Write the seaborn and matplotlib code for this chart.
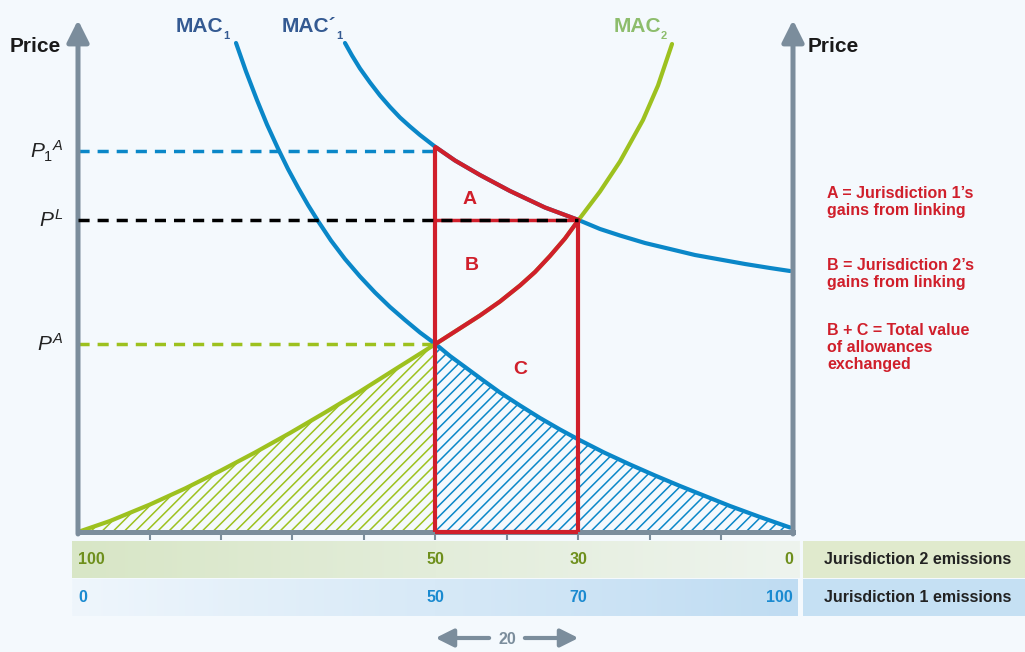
import numpy as np
import pandas as pd
import matplotlib.pyplot as plt
import matplotlib.transforms as mtransforms
from matplotlib.colors import LinearSegmentedColormap
import seaborn as sns

# values (x = jurisdiction 1 emissions, price in chart units)
mac1_x = [22.10, 23.50, 25.03, 26.43, 27.97, 29.37, 30.77, 32.17, 33.57, 35.38, 37.34, 39.44, 41.54,
          43.64, 45.73, 47.83, 50.0, 52.03, 54.13, 56.50, 59.02, 61.82, 64.62, 67.41, 70.0, 73.57,
          77.20, 80.70, 84.20, 87.69, 91.19, 95.38, 99.58]
mac1_p = [97.8, 92.1, 86.4, 81.5, 76.7, 72.6, 68.9, 65.4, 62.2, 58.3, 54.6, 51.1, 47.9,
          45.0, 42.4, 39.9, 37.6, 35.2, 33.0, 30.5, 27.9, 25.3, 22.8, 20.5, 18.5, 15.9,
          13.5, 11.3, 9.2, 7.2, 5.2, 3.0, 0.9]

mac1b_x = [37.34, 38.32, 39.44, 40.84, 42.24, 43.64, 45.03, 46.43, 47.83, 50.0, 52.73, 56.22, 60.42,
           65.31, 70.0, 73.01, 75.80, 79.30, 82.80, 86.29, 89.79, 93.29, 96.78, 99.58]
mac1b_p = [97.8, 95.3, 92.7, 89.9, 87.3, 85.0, 82.9, 81.1, 79.4, 77.0, 74.3, 71.4, 68.2,
           64.9, 62.4, 60.6, 59.3, 57.8, 56.6, 55.4, 54.5, 53.6, 52.8, 52.2]

mac2_x = [0.0, 4.48, 10.07, 14.97, 19.86, 24.76, 29.65, 34.55, 39.44, 44.76, 50.0, 52.73, 56.22,
          59.02, 61.82, 63.92, 66.01, 68.11, 70.0, 73.01, 75.80, 79.02, 81.12, 83.08]
mac2_p = [0.0, 2.2, 5.5, 8.7, 12.2, 15.9, 19.8, 23.9, 28.1, 32.9, 37.6, 40.1, 43.3,
          46.1, 49.3, 52.0, 55.2, 58.7, 62.4, 68.1, 74.1, 82.4, 89.3, 97.6]

p1a, pl, pa = 76.2, 62.4, 37.6
q_aut, q_link = 50.0, 70.0
x_ticks = [10, 20, 30, 40, 50, 60, 70, 80, 90]
j2_labels = {0: '100', 50: '50', 70: '30', 100: '0'}
j1_labels = {0: '0', 50: '50', 70: '70', 100: '100'}

BLUE = '#0a87c8'
GREEN = '#9dc11f'
RED = '#d01f2b'
GRAY = '#7b8d9c'
BG = '#f4f9fd'

sns.set_theme(style='white')
plt.rcParams['font.family'] = ['Liberation Sans', 'DejaVu Sans']
plt.rcParams['mathtext.fontset'] = 'custom'
plt.rcParams['mathtext.rm'] = 'Liberation Sans'
plt.rcParams['mathtext.it'] = 'Liberation Sans:italic'
plt.rcParams['mathtext.bf'] = 'Liberation Sans:bold'
plt.rcParams['hatch.linewidth'] = 1.1
plt.rcParams['lines.solid_capstyle'] = 'round'

fig = plt.figure(figsize=(10.25, 6.52), dpi=100, facecolor=BG)

# overlay in pixel coordinates for the bands and free text
ov = fig.add_axes([0, 0, 1, 1], zorder=0)
ov.set_xlim(0, 1025)
ov.set_ylim(652, 0)
ov.axis('off')

ax = fig.add_axes([78 / 1025, (652 - 532) / 652, (793 - 78) / 1025, (532 - 20) / 652], zorder=1)
ax.patch.set_alpha(0)
ax.set_xlim(0, 100)
ax.set_ylim(0, 102.4)

# gradient bands under the axis
grad = np.linspace(0, 1, 256).reshape(1, -1)
cm_g = LinearSegmentedColormap.from_list('g', ['#d8e6c6', '#eef4ee'])
cm_b = LinearSegmentedColormap.from_list('b', ['#eff6fc', '#bfdcf2'])
ov.imshow(grad, cmap=cm_g, extent=(72, 800, 578, 541), aspect='auto', zorder=0)
ov.imshow(grad, cmap=cm_b, extent=(72, 798, 616, 579), aspect='auto', zorder=0)
ov.add_patch(plt.Rectangle((803, 541), 222, 37, color='#e0eacd', lw=0))
ov.add_patch(plt.Rectangle((803, 579), 222, 37, color='#c5e0f3', lw=0))
ov.text(918, 560, 'Jurisdiction 2 emissions', ha='center', va='center', fontsize=11.5, fontweight='bold', color='#222222')
ov.text(918, 598, 'Jurisdiction 1 emissions', ha='center', va='center', fontsize=11.5, fontweight='bold', color='#222222')

# hatched areas
g_x = [x for x in mac2_x if x <= q_aut]
g_p = [p for x, p in zip(mac2_x, mac2_p) if x <= q_aut]
b_x = [x for x in mac1_x if x >= q_aut]
b_p = [p for x, p in zip(mac1_x, mac1_p) if x >= q_aut]
ax.fill_between(g_x, g_p, 0, facecolor='none', edgecolor=GREEN, hatch='///', linewidth=0, zorder=1)
ax.fill_between(b_x, b_p, 0, facecolor='none', edgecolor=BLUE, hatch='///', linewidth=0, zorder=1)

# curves
df = pd.concat([
    pd.DataFrame({'x': mac1_x, 'price': mac1_p, 'curve': 'MAC1'}),
    pd.DataFrame({'x': mac1b_x, 'price': mac1b_p, 'curve': "MAC1'"}),
    pd.DataFrame({'x': mac2_x, 'price': mac2_p, 'curve': 'MAC2'}),
])
sns.lineplot(data=df, x='x', y='price', hue='curve', units='curve', estimator=None, sort=False,
             palette={'MAC1': BLUE, "MAC1'": BLUE, 'MAC2': GREEN}, lw=3, legend=False, ax=ax, zorder=3)

# red outline of A, B, C
ra_x = [x for x in mac1b_x if q_aut <= x <= q_link]
ra_p = [p for x, p in zip(mac1b_x, mac1b_p) if q_aut <= x <= q_link]
rb_x = [x for x in mac2_x if q_aut <= x <= q_link]
rb_p = [p for x, p in zip(mac2_x, mac2_p) if q_aut <= x <= q_link]
ax.plot(ra_x, ra_p, color=RED, lw=3, zorder=5)
ax.plot(rb_x, rb_p, color=RED, lw=3, zorder=5)
ax.plot([q_aut, q_aut], [0, ra_p[0]], color=RED, lw=3, zorder=5, solid_capstyle='butt')
ax.plot([q_link, q_link], [0, pl], color=RED, lw=3, zorder=5, solid_capstyle='butt')
ax.plot([q_aut, q_link], [pl, pl], color=RED, lw=2.5, zorder=5)

# axes: gray spines with arrows
ax.spines[['left', 'right', 'top']].set_visible(False)
ax.spines['bottom'].set_color(GRAY)
ax.spines['bottom'].set_linewidth(3.6)
ax.spines['bottom'].set_zorder(4)
ax.plot([q_aut, q_link], [0, 0], color=RED, lw=3, zorder=6, solid_capstyle='butt', clip_on=False)
for xa in (0, 100):
    ax.annotate('', xy=(xa, 102.4), xytext=(xa, -0.4), annotation_clip=False,
                arrowprops=dict(arrowstyle='-|>,head_width=0.55,head_length=1.1', color=GRAY, lw=3.6,
                                shrinkA=0, shrinkB=0), zorder=4)
ax.set_xticks(x_ticks)
ax.set_xticklabels([])
ax.set_yticks([])
ax.tick_params(axis='x', length=6, width=1.5, color=GRAY, direction='out', bottom=True)
ax.set_xlabel('')
ax.set_ylabel('')

# dashed price lines
ax.plot([0, q_aut], [p1a, p1a], color=BLUE, lw=2.5, dashes=(3.2, 2.3), zorder=2)
ax.plot([0, q_link], [pl, pl], color='black', lw=2.5, dashes=(3.2, 2.3), zorder=6)
ax.plot([0, q_aut], [pa, pa], color=GREEN, lw=2.5, dashes=(3.2, 2.3), zorder=2)

ax.text(-2, p1a, r'$\mathit{P}_1{}^\mathit{A}$', ha='right', va='center', fontsize=15, color='#222222')
ax.text(-2, pl, r'$\mathit{P}^\mathit{L}$', ha='right', va='center', fontsize=15, color='#222222')
ax.text(-2, pa, r'$\mathit{P}^\mathit{A}$', ha='right', va='center', fontsize=15, color='#222222')

ax.text(54.8, 66.6, 'A', ha='center', va='center', fontsize=14, fontweight='bold', color=RED)
ax.text(55.1, 53.2, 'B', ha='center', va='center', fontsize=14, fontweight='bold', color=RED)
ax.text(61.8, 32.6, 'C', ha='center', va='center', fontsize=14, fontweight='bold', color=RED)

# emission numbers under the axis
trans = mtransforms.blended_transform_factory(ax.transData, ov.transData)
for xv, lab in j2_labels.items():
    ha = 'left' if xv == 0 else ('right' if xv == 100 else 'center')
    ax.text(xv, 560, lab, transform=trans, ha=ha, va='center', fontsize=11.5, fontweight='bold', color='#6e8f1c')
for xv, lab in j1_labels.items():
    ha = 'left' if xv == 0 else ('right' if xv == 100 else 'center')
    ax.text(xv, 598, lab, transform=trans, ha=ha, va='center', fontsize=11.5, fontweight='bold', color='#1a8ad0')

# the "20" span arrow
ax.annotate('', xy=(q_aut, 638), xytext=(57.5, 638), xycoords=trans, textcoords=trans, annotation_clip=False,
            arrowprops=dict(arrowstyle='-|>,head_width=0.45,head_length=0.9', color=GRAY, lw=3, shrinkA=0, shrinkB=0))
ax.annotate('', xy=(q_link, 638), xytext=(62.5, 638), xycoords=trans, textcoords=trans, annotation_clip=False,
            arrowprops=dict(arrowstyle='-|>,head_width=0.45,head_length=0.9', color=GRAY, lw=3, shrinkA=0, shrinkB=0))
ax.text(60, 639, '20', transform=trans, ha='center', va='center', fontsize=11.5, fontweight='bold', color=GRAY)

# headings and curve names
ov.text(10, 46, 'Price', ha='left', va='center', fontsize=15, fontweight='bold', color='#1a1a1a')
ov.text(808, 46, 'Price', ha='left', va='center', fontsize=15, fontweight='bold', color='#1a1a1a')
ov.text(176, 32, 'MAC', ha='left', va='baseline', fontsize=15, fontweight='bold', color='#345a92')
ov.text(223, 39, '1', ha='left', va='baseline', fontsize=8, fontweight='bold', color='#345a92')
ov.text(282, 32, 'MAC´', ha='left', va='baseline', fontsize=15, fontweight='bold', color='#345a92')
ov.text(336, 39, '1', ha='left', va='baseline', fontsize=8, fontweight='bold', color='#345a92')
ov.text(614, 32, 'MAC', ha='left', va='baseline', fontsize=15, fontweight='bold', color='#8dbd6c')
ov.text(661, 39, '2', ha='left', va='baseline', fontsize=8, fontweight='bold', color='#8dbd6c')

# notes
ov.text(827, 186, 'A = Jurisdiction 1’s\ngains from linking', ha='left', va='top', fontsize=11.5,
        fontweight='bold', color=RED, linespacing=1.15)
ov.text(827, 258, 'B = Jurisdiction 2’s\ngains from linking', ha='left', va='top', fontsize=11.5,
        fontweight='bold', color=RED, linespacing=1.15)
ov.text(827, 323, 'B + C = Total value\nof allowances\nexchanged', ha='left', va='top', fontsize=11.5,
        fontweight='bold', color=RED, linespacing=1.15)

fig.savefig('out.png', dpi=100, facecolor=BG)
